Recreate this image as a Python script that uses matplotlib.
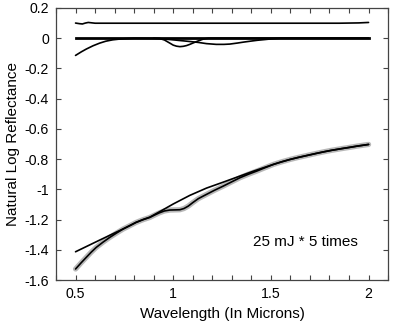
import numpy as np
import matplotlib
matplotlib.use("Agg")
import matplotlib.pyplot as plt
from matplotlib.ticker import MultipleLocator

plt.rcParams['font.family'] = ['Liberation Sans', 'DejaVu Sans']

# reflectance spectrum (natural log)
wl = [0.5, 0.53, 0.555, 0.58, 0.606, 0.64, 0.675, 0.71, 0.743, 0.78, 0.81,
      0.845, 0.88, 0.905, 0.93, 0.955, 0.983, 1.01, 1.034, 1.055, 1.077,
      1.1, 1.128, 1.15, 1.171, 1.21, 1.257, 1.3, 1.342, 1.385, 1.428, 1.47,
      1.513, 1.555, 1.599, 1.64, 1.685, 1.73, 1.77, 1.81, 1.856, 1.9, 1.942,
      2.0]
spec = [-1.527, -1.484, -1.45, -1.416, -1.384, -1.35, -1.318, -1.289, -1.263,
        -1.239, -1.219, -1.201, -1.186, -1.17, -1.155, -1.143, -1.137, -1.136,
        -1.135, -1.127, -1.111, -1.088, -1.062, -1.047, -1.033, -1.007, -0.978,
        -0.95, -0.923, -0.9, -0.879, -0.857, -0.835, -0.818, -0.802, -0.789,
        -0.776, -0.763, -0.752, -0.742, -0.732, -0.723, -0.714, -0.703]

# continuum
cont_wl = [0.5, 0.62, 0.743, 0.78, 0.81, 0.845, 0.88, 0.94, 1.0, 1.085, 1.17,
           1.257, 1.34, 1.41, 1.46, 1.513, 1.555, 1.599, 1.64, 1.685, 1.73,
           1.77, 1.81, 1.856, 1.9, 1.942, 2.0]
cont = [-1.413, -1.338, -1.262, -1.238, -1.218, -1.2, -1.184, -1.141, -1.097,
        -1.04, -0.992, -0.952, -0.913, -0.88, -0.858, -0.835, -0.818, -0.802,
        -0.789, -0.776, -0.763, -0.752, -0.742, -0.732, -0.723, -0.714, -0.703]

# continuum removed curves
cr_a_wl = [0.5, 0.53, 0.555, 0.59, 0.623, 0.655, 0.69, 0.725, 0.76, 0.8, 0.93,
           0.955, 0.983, 1.0, 1.017, 1.034, 1.051, 1.068, 1.085, 1.105, 1.128,
           1.154, 1.18, 2.0]
cr_a = [-0.114, -0.09, -0.072, -0.05, -0.033, -0.02, -0.011, -0.006, -0.003,
        0.0, -0.002, -0.012, -0.033, -0.046, -0.053, -0.056, -0.054, -0.049,
        -0.041, -0.03, -0.018, -0.006, 0.0, 0.0]
cr_b_wl = [0.9, 0.94, 0.983, 1.03, 1.085, 1.128, 1.17, 1.22, 1.26, 1.29,
           1.33, 1.36, 1.4, 1.43, 1.47, 1.5, 1.55, 2.0]
cr_b = [0.0, -0.004, -0.009, -0.015, -0.022, -0.028, -0.036, -0.041, -0.041,
        -0.039, -0.032, -0.026, -0.019, -0.014, -0.009, -0.005, 0.0, 0.0]

# ratio line near 0.1
top_wl = [0.5, 0.52, 0.535, 0.55, 0.565, 0.6, 1.0, 1.5, 1.85, 1.95, 2.0]
top = [0.1, 0.096, 0.094, 0.1, 0.104, 0.099, 0.099, 0.099, 0.099, 0.101, 0.104]

fig = plt.figure(figsize=(4.03, 3.31), dpi=100)
ax = fig.add_axes([0.139, 0.154, 0.824, 0.822])

kw = dict(color='black', lw=1.2, solid_joinstyle='round', solid_capstyle='round')
ax.plot(top_wl, top, **kw)
ax.plot([0.5, 2.0], [0, 0], color='black', lw=2)
ax.plot(cr_a_wl, cr_a, **kw)
ax.plot(cr_b_wl, cr_b, **kw)
ax.plot(wl, spec, color='#b8b8b8', lw=3.8, solid_capstyle='round',
        solid_joinstyle='round')
ax.plot(wl, spec, **kw)
ax.plot(cont_wl, cont, **kw)

ax.text(1.41, -1.35, '25 mJ * 5 times', fontsize=11, va='center')

ax.set_xlim(0.4, 2.1)
ax.set_ylim(-1.6, 0.2)
ax.set_xticks([0.5, 1, 1.5, 2])
ax.set_xticklabels(['0.5', '1', '1.5', '2'])
ax.xaxis.set_minor_locator(MultipleLocator(0.1))
ax.set_yticks(np.arange(-1.6, 0.21, 0.2))
ax.set_yticklabels(['-1.6', '-1.4', '-1.2', '-1', '-0.8', '-0.6', '-0.4',
                    '-0.2', '0', '0.2'])
ax.tick_params(which='both', direction='in', top=True, right=True, length=3.5,
               width=0.8, color='#444444', labelsize=10.2, pad=5)
for s in ax.spines.values():
    s.set_color('#444444')
    s.set_linewidth(0.9)

ax.set_xlabel('Wavelength (In Microns)', fontsize=11, labelpad=4)
ax.set_ylabel('Natural Log Reflectance', fontsize=11, labelpad=3)

fig.savefig('out.png', dpi=100)
